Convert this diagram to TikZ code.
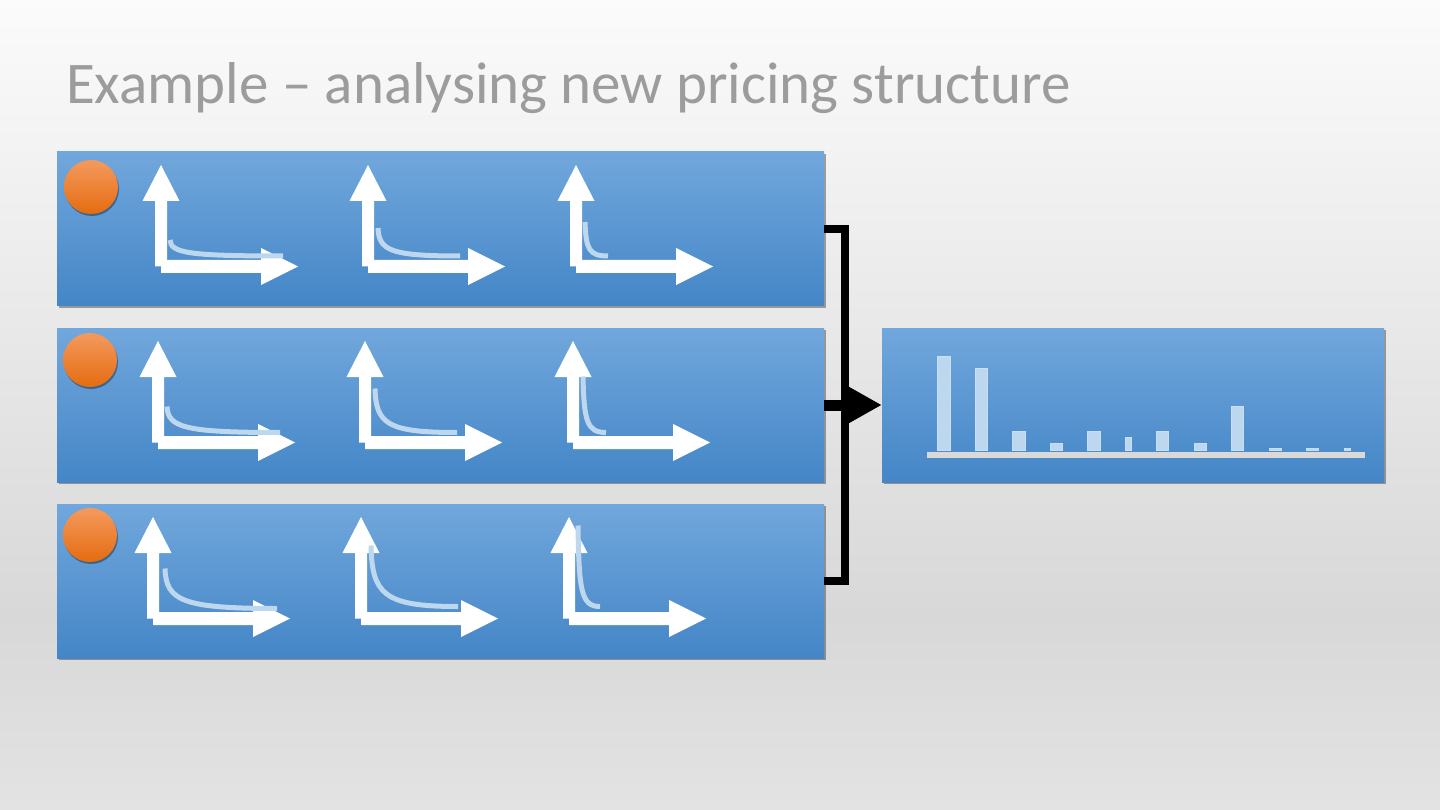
\documentclass[tikz,border=0pt]{standalone}
\usepackage{fontspec}
\setmainfont{Carlito}
\usetikzlibrary{shadows,arrows.meta,calc}
\definecolor{bgT}{HTML}{FBFBFB}
\definecolor{bgM}{HTML}{D8D8D8}
\definecolor{bgB}{HTML}{E3E3E3}
\definecolor{pT}{HTML}{71A7DC}
\definecolor{pM}{HTML}{5A9BDA}
\definecolor{pB}{HTML}{4486C7}
\definecolor{oT}{HTML}{F49A5E}
\definecolor{oB}{HTML}{E56C10}
\definecolor{curveC}{HTML}{BDD7EE}
\definecolor{barC}{HTML}{BDD7EE}
\definecolor{barE}{HTML}{CADFF2}
\definecolor{baseC}{HTML}{D9D9D9}
\definecolor{titleC}{HTML}{9C9C9C}
\pgfdeclareverticalshading{bgshade}{100bp}{color(0bp)=(bgB); color(25bp)=(bgB); color(37bp)=(bgM); color(75bp)=(bgT); color(100bp)=(bgT)}
\tikzset{
  panel/.style={rectangle, minimum width=767pt, minimum height=154pt, inner sep=0pt,
    top color=pT, middle color=pM, bottom color=pB,
    drop shadow={shadow xshift=1.5pt, shadow yshift=-2pt, opacity=0.35, fill=black}},
  dot/.style={circle, minimum size=54pt, inner sep=0pt, top color=oT, bottom color=oB,
    drop shadow={shadow xshift=1pt, shadow yshift=-2pt, opacity=0.35, fill=black}},
  curveline/.style={draw=curveC, line width=5pt},
  bar/.style={fill=barC, draw=barE, line width=0.8pt},
  bracketline/.style={draw=black, line width=8pt, line join=miter},
  feedarrow/.style={draw=black, line width=11pt, -{Triangle[length=33pt,width=34pt]}},
  axesicon/.pic={
    \fill[white] (-6,0) -- (-6,-65.5) -- (-18.5,-65.5) -- (0,-101.5) -- (18.5,-65.5) -- (6,-65.5) -- (6,0) -- cycle;
    \fill[white] (0,-6.5) -- (100,-6.5) -- (100,-18.5) -- (137,0) -- (100,18.5) -- (100,6.5) -- (0,6.5) -- cycle;
  }
}
\begin{document}
\begin{tikzpicture}[x=1pt,y=-1pt]
\useasboundingbox (0,0) rectangle (1440,810);
\fill[shading=bgshade] (0,0) rectangle (1440,810);

% title
\node[anchor=base west, inner sep=0pt, text=titleC, font=\fontsize{59}{70}\selectfont] (title) at (66,104) {Example – analysing new pricing structure};

% panels
\node[panel] (p1) at (440.5,229) {};
\node[panel] (p2) at (440.5,405) {};
\node[panel] (p3) at (440.5,581) {};
\node[panel, minimum width=502pt] (r) at (1133,405) {};

% orange dots
\node[dot] (c1) at (91,187) {};
\node[dot] (c2) at (90,360) {};
\node[dot] (c3) at (90,535) {};

% panel 1 icons
\begin{scope}[shift={(161,266.5)}]
  \pic{axesicon};
  \draw[curveline] (9,-26.5) .. controls (10,-13.7) and (26,-10.5) .. (122,-10.5);
\end{scope}
\begin{scope}[shift={(368,266.5)}]
  \pic{axesicon};
  \draw[curveline] (10,-38.5) .. controls (11,-16.1) and (22,-10.5) .. (92,-10.5);
\end{scope}
\begin{scope}[shift={(576,266.5)}]
  \pic{axesicon};
  \draw[curveline] (9,-44.5) .. controls (10,-17.3) and (13,-10.5) .. (32,-10.5);
\end{scope}

% panel 2 icons
\begin{scope}[shift={(158,442.5)}]
  \pic{axesicon};
  \draw[curveline] (9,-36) .. controls (10,-15.2) and (26,-10) .. (122,-10);
\end{scope}
\begin{scope}[shift={(365,442.5)}]
  \pic{axesicon};
  \draw[curveline] (10,-54) .. controls (11,-18.8) and (22,-10) .. (92,-10);
\end{scope}
\begin{scope}[shift={(573,442.5)}]
  \pic{axesicon};
  \draw[curveline] (10,-66) .. controls (11,-21.2) and (14,-10) .. (33,-10);
\end{scope}

% panel 3 icons
\begin{scope}[shift={(153,618.5)}]
  \pic{axesicon};
  \draw[curveline] (12,-50) .. controls (13,-18) and (29,-10) .. (124,-10);
\end{scope}
\begin{scope}[shift={(361,618.5)}]
  \pic{axesicon};
  \draw[curveline] (10,-73) .. controls (11,-24.2) and (23,-12) .. (97,-12);
\end{scope}
\begin{scope}[shift={(569,618.5)}]
  \pic{axesicon};
  \draw[curveline] (9,-93) .. controls (10,-28.2) and (12,-12) .. (31,-12);
\end{scope}

% bracket connector
\coordinate (j) at (845,405);
\draw[bracketline] (p1.east) -| (j) |- (p3.east);
\draw[feedarrow] (p2.east) -- (r.west);

% bar chart
\fill[baseC] (927,451.5) rectangle (1365,457.5);
\foreach \x/\t/\w in {937.7/356/12.5, 975/368.7/12.5, 1012.7/431/12.5, 1050/443.7/12.5,
  1087.7/431/12.5, 1125/437.3/6.5, 1156.3/431/12.5, 1194/443.7/12.5, 1231.3/406/12.5,
  1269/448.3/12.5, 1306.3/448.3/12.5, 1344/448.3/6.5}
  \draw[bar] (\x,\t) rectangle ++(\w,450-\t);
\end{tikzpicture}
\end{document}
